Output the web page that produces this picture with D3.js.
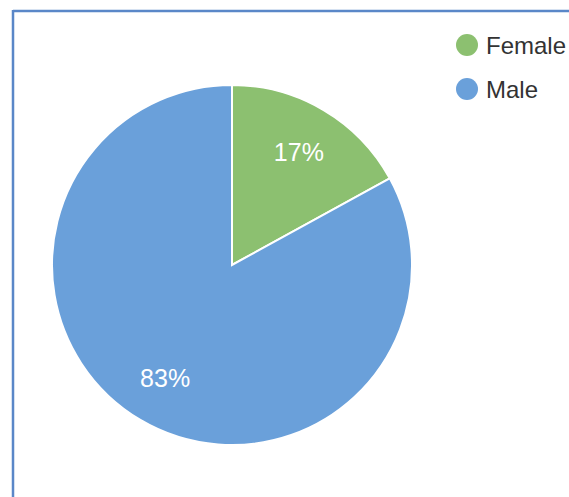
<!DOCTYPE html>
<html>
<head>
<meta charset="utf-8">
<script src="https://cdn.jsdelivr.net/npm/d3@7"></script>
<style>
  html, body { margin: 0; padding: 0; background: #fff; }
  svg { display: block; }
</style>
</head>
<body>
<svg id="chart" width="569" height="497"></svg>
<script>
// Gender split
const categories = ["Female", "Male"];
const values = [17, 83];
const colors = ["#8cc070", "#6aa0da"];

const svg = d3.select("#chart");
const W = 569, H = 497;

// Frame lines (top and left)
svg.append("line").attr("x1", 13).attr("x2", W).attr("y1", 11).attr("y2", 11)
  .attr("stroke", "#5a87c8").attr("stroke-width", 2.5);
svg.append("line").attr("x1", 13).attr("x2", 13).attr("y1", 10).attr("y2", H)
  .attr("stroke", "#5a87c8").attr("stroke-width", 2.5);

const cx = 232, cy = 265, r = 180;
const total = d3.sum(values);

const pie = d3.pie().sort(null).value(d => d.value);
const data = pie(categories.map((c, i) => ({ name: c, value: values[i], color: colors[i] })));
const arc = d3.arc().innerRadius(0).outerRadius(r);
const labelArc = d3.arc().innerRadius(r * 0.73).outerRadius(r * 0.73);

const g = svg.append("g").attr("transform", `translate(${cx},${cy})`);
g.selectAll("path").data(data).join("path")
  .attr("d", arc)
  .attr("fill", d => d.data.color)
  .attr("stroke", "#fff")
  .attr("stroke-width", 2);

g.selectAll("text").data(data).join("text")
  .attr("transform", d => `translate(${labelArc.centroid(d)})`)
  .attr("text-anchor", "middle")
  .attr("dominant-baseline", "central")
  .attr("font-family", "Liberation Sans, Arial, sans-serif")
  .attr("font-size", 25)
  .attr("fill", "#ffffff")
  .text(d => Math.round(d.data.value / total * 100) + "%");

// Legend
const legend = svg.append("g");
const items = legend.selectAll("g").data(categories).join("g")
  .attr("transform", (d, i) => `translate(467,${45 + i * 44})`);
items.append("circle").attr("r", 11).attr("fill", (d, i) => colors[i]);
items.append("text")
  .attr("x", 19)
  .attr("dominant-baseline", "central")
  .attr("font-family", "Liberation Sans, Arial, sans-serif")
  .attr("font-size", 24)
  .attr("fill", "#333333")
  .text(d => d);
</script>
</body>
</html>
